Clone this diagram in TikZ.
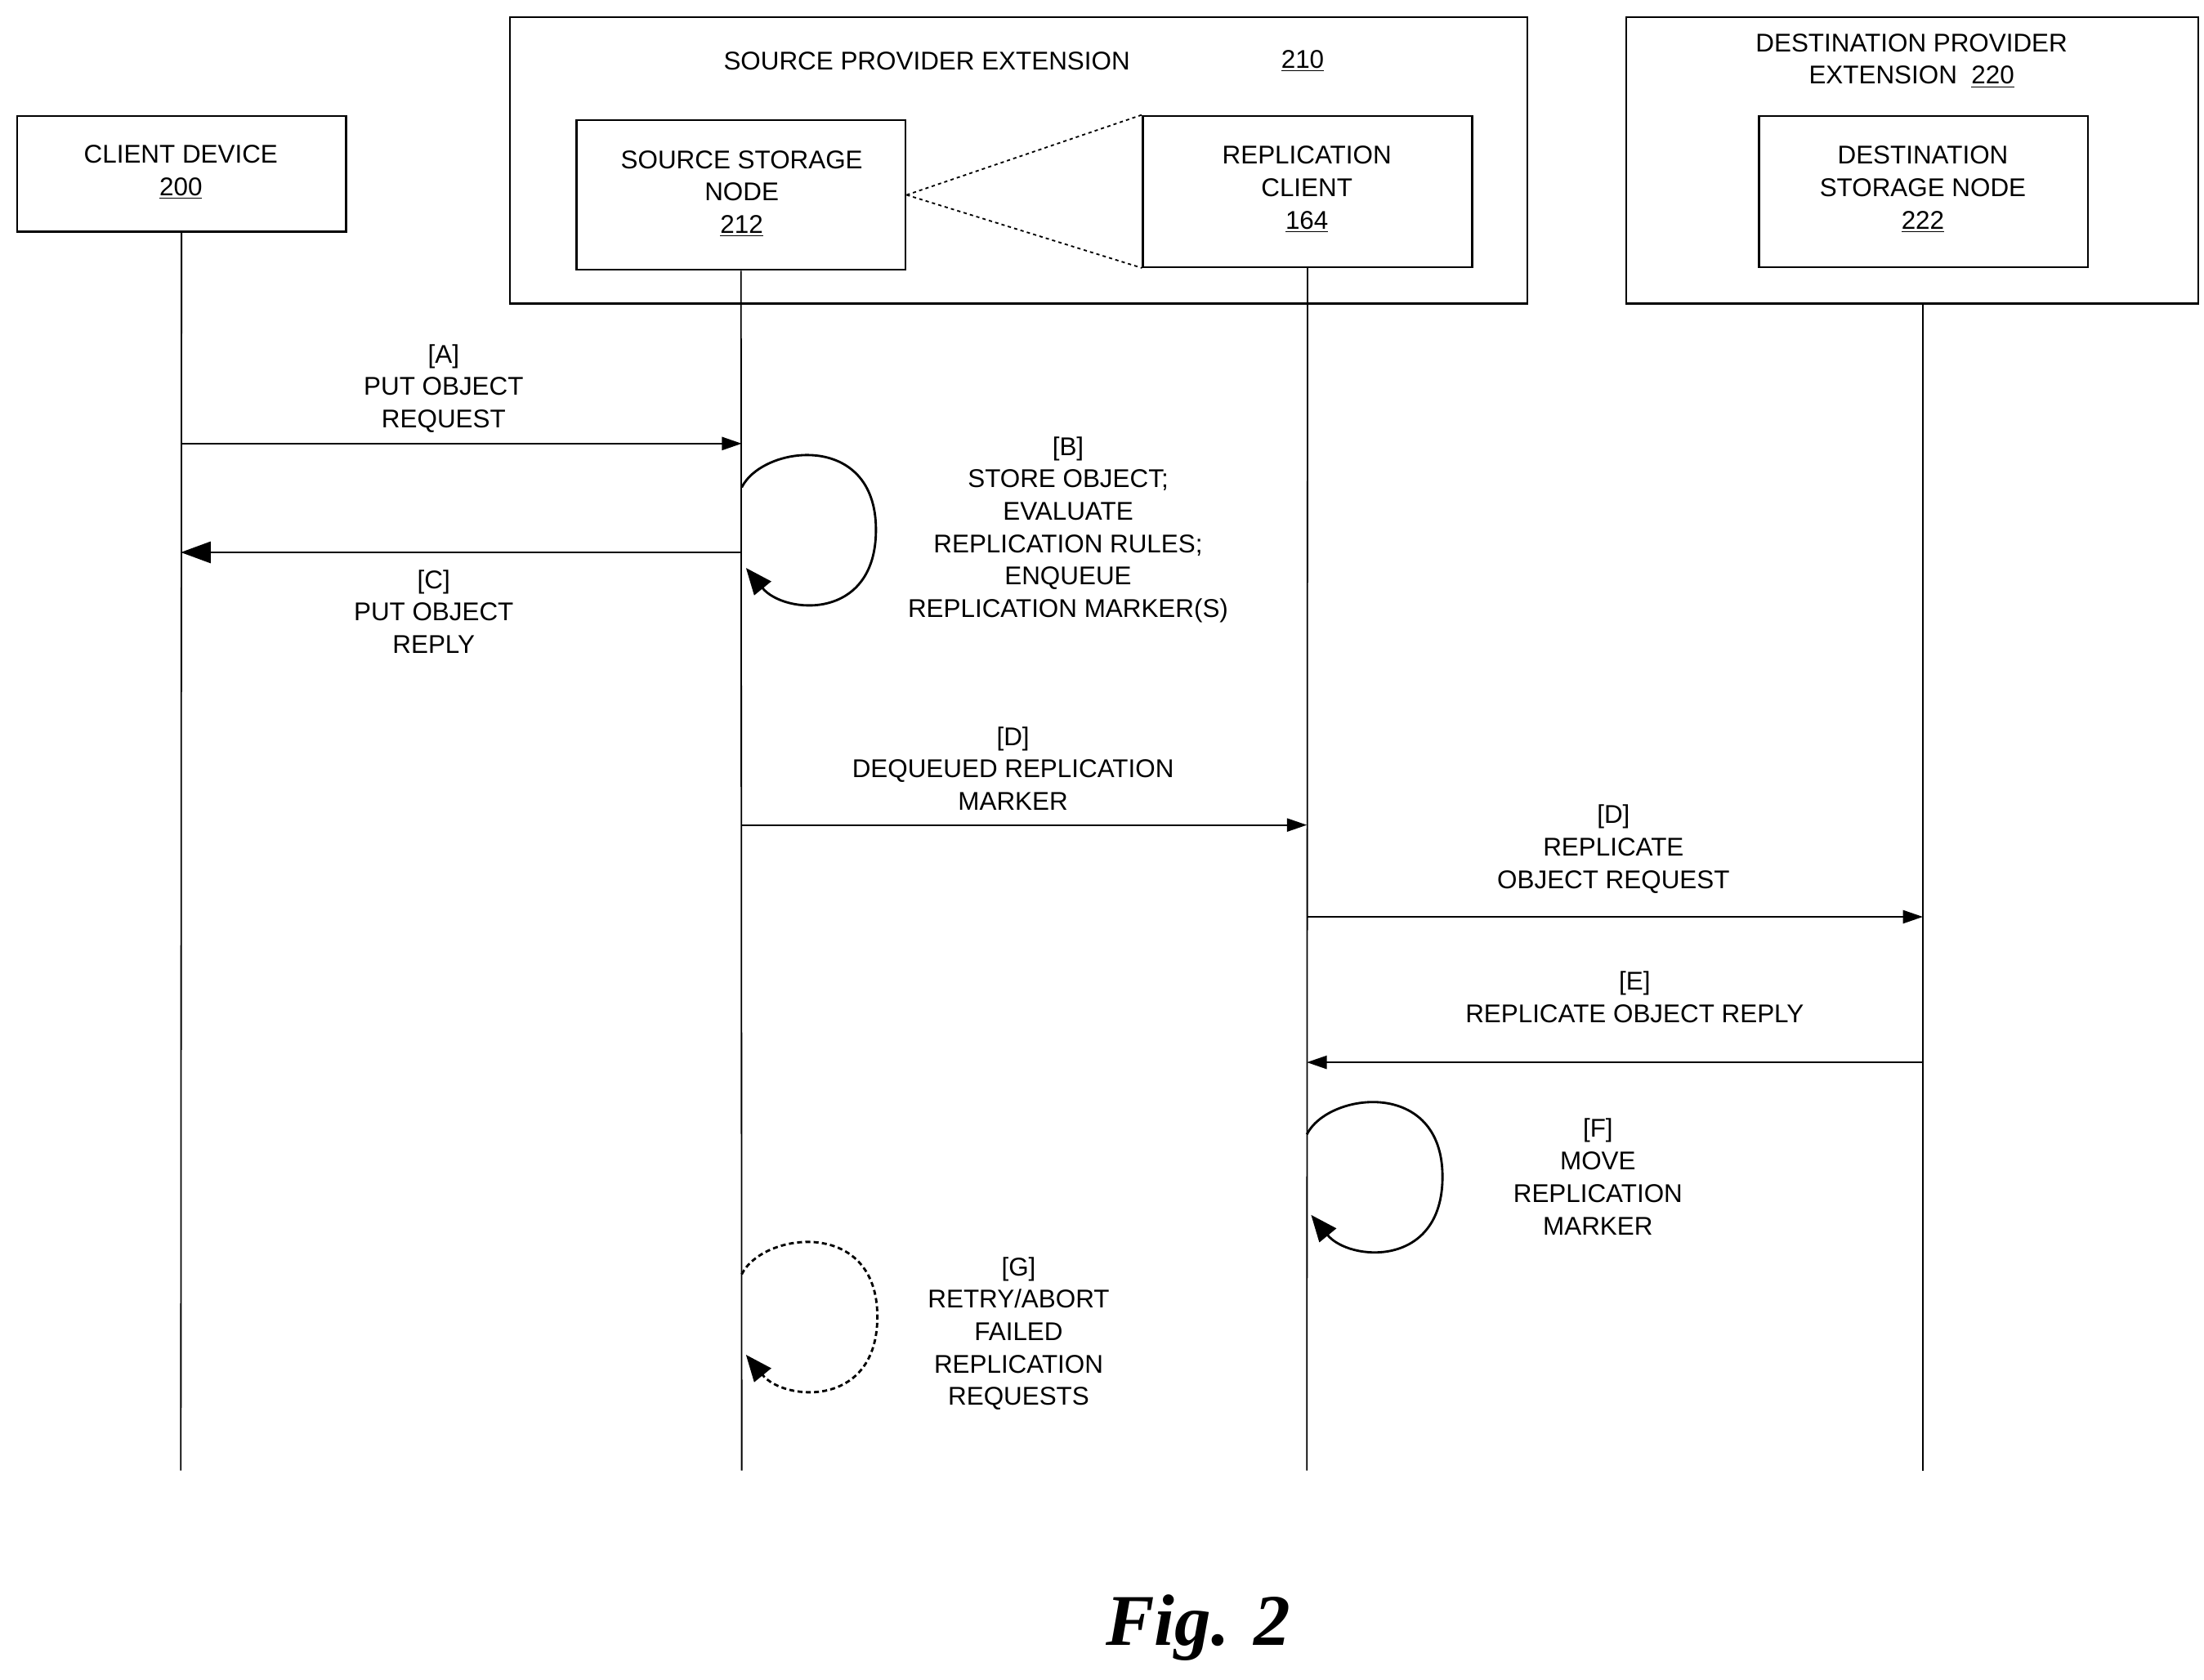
\documentclass[tikz,border=0pt]{standalone}
\usepackage{fontspec}
\setmainfont{Liberation Sans}
\newfontfamily\figfont{Liberation Serif}
\usetikzlibrary{arrows.meta}
\begin{document}
\begin{tikzpicture}[x=0.03cm,y=-0.03cm,
  box/.style={draw,line width=1.2pt},
  txt/.style={align=center,font=\fontsize{15.5}{19.6}\selectfont,inner sep=0pt},
  life/.style={line width=0.9pt},
  msg/.style={line width=0.9pt,-{Triangle[length=12pt,width=8pt]}},
  bmsg/.style={line width=0.9pt,-{Triangle[length=18pt,width=13pt]}},
  loop/.style={line width=1.4pt,-{Triangle[length=16pt,width=13pt]}}]
\useasboundingbox (0,0) rectangle (1560,1189);
% boxes
\draw[box] (361,12) rectangle (1081,215);
\draw[box] (1151,12) rectangle (1556,215);
\node[box,minimum width=233*0.03cm,minimum height=82*0.03cm] (client) at (128.5,123) {};
\node[box,minimum width=233*0.03cm,minimum height=106*0.03cm] (ssn) at (524.5,138) {};
\node[box,minimum width=233*0.03cm,minimum height=107*0.03cm] (rc) at (925.5,135.5) {};
\node[box,minimum width=233*0.03cm,minimum height=107*0.03cm] (dsn) at (1361.5,135.5) {};
\node[txt] at (128,122) {CLIENT DEVICE\\\underline{200}};
\node[txt] at (525,137) {SOURCE STORAGE\\NODE\\\underline{212}};
\node[txt] at (925,134) {REPLICATION\\CLIENT\\\underline{164}};
\node[txt] at (1361,134) {DESTINATION\\STORAGE NODE\\\underline{222}};
\node[txt] (spe) at (656,43) {SOURCE PROVIDER EXTENSION};
\node[txt] (n210) at (922,43) {\underline{210}};
\node[txt] (dpe) at (1353,43) {DESTINATION PROVIDER\\EXTENSION\ \ \underline{220}};
\draw[dash pattern=on 2pt off 2pt,line width=0.9pt] (ssn.east) -- (rc.north west) (ssn.east) -- (rc.south west);
% lifelines
\coordinate (cE) at (128,1041); \coordinate (sE) at (525,1041);
\coordinate (rE) at (925,1041); \coordinate (dE) at (1361,1041);
\draw[life] (client.south) -- (cE);
\draw[life] (ssn.south) -- (sE);
\draw[life] (rc.south) -- (rE);
\draw[life] (1361,215) -- (dE);
% messages
\coordinate (a1) at (128,314); \coordinate (a2) at (525,314);
\draw[msg] (a1) -- (a2);
\node[txt] at (314,275) {[A]\\PUT OBJECT\\REQUEST};
\coordinate (c1) at (525,391); \coordinate (c2) at (128,391);
\draw[bmsg] (c1) -- (c2);
\node[txt] at (307,433) {[C]\\PUT OBJECT\\REPLY};
\draw[loop] (525,345) .. controls (540,315) and (620,305) .. (620,375) .. controls (620,440) and (555,435) .. (528,402);
\node[txt] at (756,375) {[B]\\STORE OBJECT;\\EVALUATE\\REPLICATION RULES;\\ENQUEUE\\REPLICATION MARKER(S)};
\coordinate (d1) at (525,584); \coordinate (d2) at (925,584);
\draw[msg] (d1) -- (d2);
\node[txt] at (717,544) {[D]\\DEQUEUED REPLICATION\\MARKER};
\coordinate (e1) at (925,649); \coordinate (e2) at (1361,649);
\draw[msg] (e1) -- (e2);
\node[txt] at (1142,601) {[D]\\REPLICATE\\OBJECT REQUEST};
\coordinate (f1) at (1361,752); \coordinate (f2) at (925,752);
\draw[msg] (f1) -- (f2);
\node[txt] at (1157,706) {[E]\\REPLICATE OBJECT REPLY};
\draw[loop] (925,803) .. controls (940,773) and (1021,763) .. (1021,833) .. controls (1021,898) and (955,893) .. (928,860);
\node[txt] at (1131,833) {[F]\\MOVE\\REPLICATION\\MARKER};
\draw[loop,dash pattern=on 3pt off 2pt] (525,902) .. controls (540,872) and (621,862) .. (621,932) .. controls (621,997) and (555,992) .. (528,959);
\node[txt] at (721,944) {[G]\\RETRY/ABORT\\FAILED\\REPLICATION\\REQUESTS};
\node[inner sep=0pt,font=\figfont\fontsize{44}{50}\selectfont\bfseries\itshape] (fig) at (848,1152) {Fig. 2};
\end{tikzpicture}
\end{document}
